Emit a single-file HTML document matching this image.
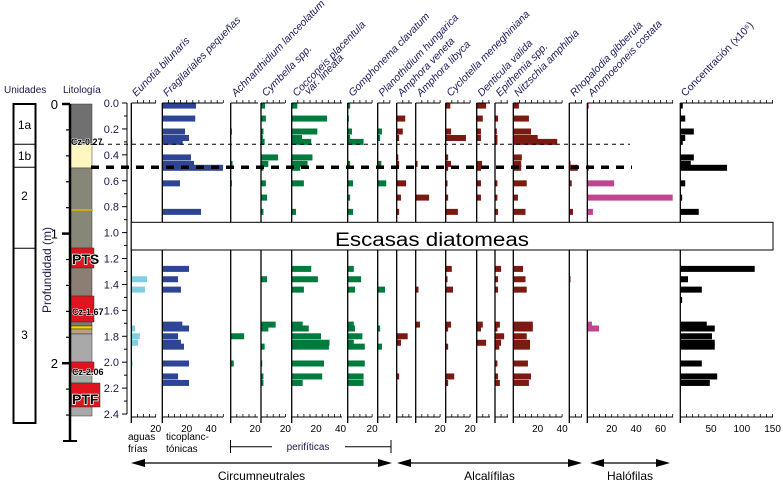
<!DOCTYPE html>
<html><head><meta charset="utf-8">
<style>
body{margin:0;background:#fff;}
svg{display:block;font-family:"Liberation Sans",sans-serif;}
</style></head>
<body>
<svg id="chart" width="783" height="486" viewBox="0 0 783 486">
<g id="litho"></g>
<g id="panels"></g>
<g id="annot"></g>
</svg>
<script>
// ---- data ----
const depths = [0.02,0.12,0.22,0.27,0.30,0.42,0.47,0.50,0.62,0.73,0.84,1.28,1.36,1.44,1.52,1.71,1.74,1.80,1.85,1.88,2.01,2.11,2.16];
const eunotia      = [0,0,0,0,1,0,0,0,0,0,0, 0,12.9,11.2,0,0,3,7,5.5,0,1,0,0];
const fragilariales= [27.6,27,18.6,21.9,16.7,23.5,26,49.7,14.5,0,31.7, 21.9,12.9,15.3,0,16.4,21.9,12.9,15.3,17.8,21.9,12.9,21.9];
const achnanthidium= [0,0,1,0,0,0,1.5,0,1,0,0, 0,0,0,0,0,0,11,0,0,2.5,0,0];
const cymbella     = [3.3,4,2,1.5,3,14,6,2,4,5,2, 0,5,0,0,12,6,0,0,3,1,2,2];
const cocconeis    = [4.6,29,21,8.5,16,17,13,7,10,0,3.5, 16,21.5,10,0,9,14,24,31,30.5,26.5,25,9];
const gomphonema   = [2,1,3.5,2,13,0,2,0,4.4,2,4.4, 5,11,6,0,5,6,12,5,14,14,13,13];
const planothidium = [0,0,3.5,2,0,0,3,0,7,0,0, 0,0,6,0,0,2,0,0,3.5,0,0,0];
const amphoraVen   = [0,7,5,2,0,1.3,2,0,7.7,3.5,2, 0,0,0,0,0,0,9,3.5,0,0,2,0];
const amphoraLib   = [0,0,0,0,0,0,1.5,0,0,11,0, 0,0,2.3,0,3.5,0,0,0,0,0,0,0];
const cyclotella   = [3.8,0,4.4,16.6,0,2,4.4,2,1.5,2,10, 5,1.5,6,0,4.4,2,0,0,2,0,7,2];
const denticula    = [7.7,5,3.5,3.5,0,0,4.4,3.5,3.5,3.5,0, 0,0,0,0,5,3.5,0,7.7,0,0,0,0];
const epithemia    = [0,2.5,1.5,2,2,0,0,0,2,2,2.5, 5,2.5,2.5,0,4,2,7.5,5,3.5,2,2.5,4];
const nitzschia    = [4.6,12.8,14.5,20,36,7,6.5,6.5,11,3.8,10, 8,10,11,0,16,16,11,13.7,13.7,12,14.5,12.8];
const rhopalodia   = [0,0,0,0,0,0,1,7,2,0,3, 0,1,0,0,0,0,0,0,0,0,0,0];
const anomoeoneis  = [1.3,0,0,0,0,0,0,1.3,22,70,4.6, 0,0,0,0,3.8,9.6,0,0,0,0,0,0];
const concentration= [4,8,22,8,4,22,17,76,8,3,30, 121,12.5,35,3,43,56,51.5,56,56,35,60,48];
const depthTicks = ["0.0","0.2","0.4","0.6","0.8","1.0","1.2","1.4","1.6","1.8","2.0","2.2","2.4"];

const NS="http://www.w3.org/2000/svg";
function el(tag,attrs,parent){const e=document.createElementNS(NS,tag);for(const k in attrs)e.setAttribute(k,attrs[k]);if(parent)parent.appendChild(e);return e;}
const y0=103, pxm=129.6;
function yScale(d){return y0+d*pxm;}
const P=document.getElementById('panels');
const L=document.getElementById('litho');
const A=document.getElementById('annot');

// ---- units column ----
let r=el('rect',{x:13.5,y:104,width:22,height:319,fill:'none',stroke:'#000','stroke-width':2},L);


[144.3,167.3,248.3].forEach(yy=>{let l=el('line',{x1:13.5,x2:35.5,y1:yy,y2:yy,stroke:'#000','stroke-width':1},L);});
[["1a",125],["1b",156],["2",196],["3",335]].forEach(u=>{let t=el('text',{x:24.5,y:u[1]+4,'font-size':12,'text-anchor':'middle',fill:'#000'},L);t.textContent=u[0];});
let t1=el('text',{x:4,y:93,'font-size':10,fill:'#1a1a4a'},L);t1.textContent='Unidades';
let t2=el('text',{x:63,y:93,'font-size':10,fill:'#1a1a4a'},L);t2.textContent='Litología';

// ---- lithology ----
const layers=[[104,144,'#707070'],[144,168,'#fff6c0'],[168,248,'#878778'],[248,268,'#e0141e'],[268,296,'#8c7e74'],[296,322,'#e0141e'],[322,326,'#7a7a70'],[326,329,'#ffd200'],[329,334,'#b8a080'],[334,362,'#a9a9a9'],[362,372,'#e0141e'],[372,383,'#a9a9a9'],[383,407,'#e0141e'],[407,416,'#a9a9a9']];
layers.forEach(lr=>{let w=(lr[2]=='#e0141e')?24:22; if(lr[0]==383)w=30; let rr=el('rect',{x:70,y:lr[0],width:w,height:lr[1]-lr[0],fill:lr[2],stroke:'#333','stroke-width':0.5},L);});
let yl=el('line',{x1:70,x2:93,y1:210,y2:210,stroke:'#e8b000','stroke-width':1.5},L);
[["Cz-0.27",71,145,9],["PTS",72,264,14],["Cz-1.67",72,315,9],["Cz-2.06",72,375,9],["PTF",72,404,14]].forEach(s=>{let t=el('text',{x:s[1],y:s[2],'font-size':s[3],'font-weight':'bold',fill:'#000',stroke:'#fff','stroke-width':s[3]>10?1.5:1,'paint-order':'stroke'},L);t.textContent=s[0];});
el('line',{x1:70,x2:70,y1:104,y2:441,stroke:'#000','stroke-width':2.5},L);
el('line',{x1:63,x2:77,y1:441,y2:441,stroke:'#000','stroke-width':2},L);
for(let i=0;i<=12;i++){const yy=104+i*0.2*pxm; el('line',{x1:(i%5==0)?62:66,x2:70,y1:yy,y2:yy,stroke:'#000','stroke-width':(i%5==0)?2.5:1.2},L);}
[["0",104],["1",233.6],["2",363.2]].forEach(m=>{let t=el('text',{x:58,y:m[1]+5,'font-size':13,'text-anchor':'end',fill:'#000'},L);t.textContent=m[0];});
let yt=el('text',{x:0,y:0,'font-size':12,'text-anchor':'middle',fill:'#1a1a4a',transform:'translate(51,270) rotate(-90)'},L);yt.textContent='Profundidad (m)';

// ---- depth axis ----
el('line',{x1:127,x2:127,y1:y0,y2:yScale(2.4),stroke:'#000','stroke-width':1},P);
depthTicks.forEach((lab)=>{const d=parseFloat(lab);const yy=yScale(d);
 el('line',{x1:122,x2:127,y1:yy,y2:yy,stroke:'#000','stroke-width':1},P);
 if(d<2.4) el('line',{x1:124,x2:127,y1:yScale(d+0.1),y2:yScale(d+0.1),stroke:'#000','stroke-width':1},P);
 let t=el('text',{x:119,y:yy+4,'font-size':11,'text-anchor':'end',fill:'#1a1a4a'},P);t.textContent=lab;
 
 
});

// ---- panels ----
const panels=[
 {n:'eunotia',lab:['Eunotia bilunaris'],x0:131.3,x1:156,c:'#7fcfe0',v:eunotia,s:1.22,ticks:[20]},
 {n:'fragilariales',lab:['Fragilariales pequeñas'],x0:162.3,x1:223,c:'#2e4494',v:fragilariales,s:1.22,ticks:[20,40]},
 {n:'achnanthidium',lab:['Achnanthidium lanceolatum'],x0:230.7,x1:258,c:'#007a3d',v:achnanthidium,s:1.22,ticks:[20]},
 {n:'cymbella',lab:['Cymbella spp.'],x0:261,x1:285,c:'#007a3d',v:cymbella,s:1.22,ticks:[20]},
 {n:'cocconeis',lab:['Cocconeis placentula','var. lineata'],x0:291.7,x1:342,c:'#007a3d',v:cocconeis,s:1.22,ticks:[20,40]},
 {n:'gomphonema',lab:['Gomphonema clavatum'],x0:347.7,x1:372,c:'#007a3d',v:gomphonema,s:1.22,ticks:[20]},
 {n:'planothidium',lab:['Planothidium hungarica'],x0:377.7,x1:390,c:'#007a3d',v:planothidium,s:1.22,ticks:[]},
 {n:'amphora-veneta',lab:['Amphora veneta'],x0:396.7,x1:412,c:'#7a1a10',v:amphoraVen,s:1.22,ticks:[]},
 {n:'amphora-libyca',lab:['Amphora libyca'],x0:415.7,x1:440,c:'#7a1a10',v:amphoraLib,s:1.22,ticks:[20]},
 {n:'cyclotella',lab:['Cyclotella meneghiniana'],x0:445.7,x1:470,c:'#7a1a10',v:cyclotella,s:1.22,ticks:[20]},
 {n:'denticula',lab:['Denticula valida'],x0:476.7,x1:490,c:'#7a1a10',v:denticula,s:1.22,ticks:[]},
 {n:'epithemia',lab:['Epithemia spp.'],x0:495,x1:508,c:'#7a1a10',v:epithemia,s:1.22,ticks:[]},
 {n:'nitzschia',lab:['Nitzschia amphibia'],x0:513.3,x1:562,c:'#7a1a10',v:nitzschia,s:1.22,ticks:[20,40]},
 {n:'rhopalodia',lab:['Rhopalodia gibberula'],x0:569.3,x1:582,c:'#7a1a10',v:rhopalodia,s:1.22,ticks:[]},
 {n:'anomoeoneis',lab:['Anomoeoneis costata'],x0:587.3,x1:673,c:'#c0448f',v:anomoeoneis,s:1.22,ticks:[20,40,60]},
 {n:'concentration',lab:['Concentración (x10⁶)'],x0:680.3,x1:773,c:'#000',v:concentration,s:0.615,ticks:[50,100,150],minor:10,upright:true}
];
const yBot=417;
panels.forEach(p=>{
 const g=el('g',{},P);
 
 
 const xS=v=>p.x0+v*p.s;
 p.v.forEach((v,i)=>{ if(v<=0)return;
  const b=el('rect',{x:p.x0,y:yScale(depths[i])-3,width:xS(v)-p.x0,height:6,fill:p.c},g);
  
  
 });
 el('line',{x1:p.x0,x2:p.x0,y1:y0,y2:yBot+6,stroke:'#000','stroke-width':1.3},g);
 [y0,yBot].forEach(yy=>{el('line',{x1:p.x0,x2:p.x1,y1:yy,y2:yy,stroke:'#000','stroke-width':1},g);
  const step=p.minor||5; for(let v=step;p.x0+v*p.s<=p.x1+0.5;v+=step){const xx=xS(v);el('line',{x1:xx,x2:xx,y1:yy,y2:yy-3,stroke:'#000','stroke-width':0.8},g);}
 });
 p.ticks.forEach(tv=>{const t=el('text',{x:xS(tv),y:yBot+15,'font-size':10,'text-anchor':'middle',fill:'#000'},g);t.textContent=String(tv);
  
  });
 p.lab.forEach((lt,k)=>{const t=el('text',{x:0,y:0,'font-size':10.5,'font-style':p.upright?'normal':'italic',fill:'#1a1a5a',transform:`translate(${p.x0+5+k*12},${97-k*2}) rotate(-46)`},g);t.textContent=lt;
  
  });
});

// ---- annotations ----
let d1=el('line',{x1:92,x2:630,y1:144.3,y2:144.3,stroke:'#000','stroke-width':1,'stroke-dasharray':'4,4'},A);

let d2=el('line',{x1:91,x2:632,y1:167.3,y2:167.3,stroke:'#000','stroke-width':3.5,'stroke-dasharray':'8,7'},A);

let box=el('rect',{x:131.3,y:222.3,width:641.7,height:27.7,fill:'#fff',stroke:'#000','stroke-width':1},A);

let st=el('text',{x:432,y:246,'font-size':19,'text-anchor':'middle',fill:'#000',textLength:194,lengthAdjust:'spacingAndGlyphs'},A);st.textContent='Escasas diatomeas';

[["aguas",128,440],["frías",128,452],["ticoplanc-",166,440],["tónicas",166,452]].forEach(s=>{let t=el('text',{x:s[1],y:s[2],'font-size':10,fill:'#000'},A);t.textContent=s[0];});
el('line',{x1:230.5,x2:272,y1:446.7,y2:446.7,stroke:'#000','stroke-width':1},A);
el('line',{x1:345,x2:391,y1:446.7,y2:446.7,stroke:'#000','stroke-width':1},A);
el('line',{x1:230.5,x2:230.5,y1:440,y2:453,stroke:'#000','stroke-width':1},A);
el('line',{x1:391,x2:391,y1:440,y2:453,stroke:'#000','stroke-width':1},A);
let pf=el('text',{x:308,y:450,'font-size':10,'text-anchor':'middle',fill:'#1a1a4a'},A);pf.textContent='perifíticas';

function arrow(x1,x2,yy,lab,name){
 el('line',{x1:x1+8,x2:x2-8,y1:yy,y2:yy,stroke:'#000','stroke-width':1.2},A);
 el('polygon',{points:`${x1},${yy} ${x1+14},${yy-4} ${x1+14},${yy+4}`,fill:'#000'},A);
 el('polygon',{points:`${x2},${yy} ${x2-14},${yy-4} ${x2-14},${yy+4}`,fill:'#000'},A);
 let t=el('text',{x:(x1+x2)/2,y:480,'font-size':12,'text-anchor':'middle',fill:'#000'},A);t.textContent=lab;
 
 
}
arrow(131,392,463,'Circumneutrales','circumneutral-label');
arrow(397,582,463,'Alcalífilas','alkaliphilous-label');
arrow(590,670,463,'Halófilas','halophilous-label');
</script>
</body></html>
